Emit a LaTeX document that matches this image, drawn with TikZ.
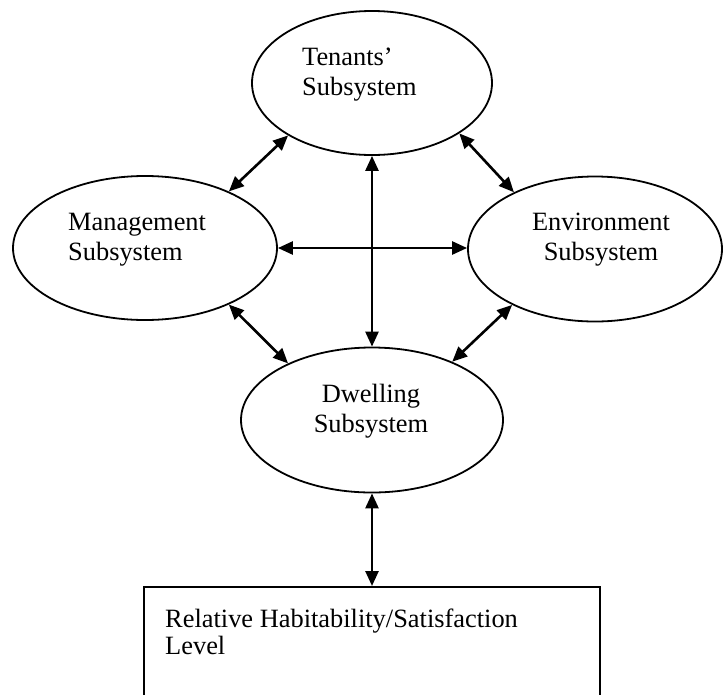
\documentclass[tikz,border=0pt]{standalone}
\usepackage{fontspec}
\setmainfont{Liberation Serif}
\usetikzlibrary{shapes.geometric,arrows.meta}
\begin{document}
\begin{tikzpicture}[x=1pt,y=-1pt,
  sub/.style={draw,ellipse,line width=1.8pt,inner sep=0pt},
  lbl/.style={inner sep=0pt,font=\fontsize{26.4}{30}\selectfont},
  link/.style={line width=2.6pt,{Triangle[length=15pt,width=13pt]}-{Triangle[length=15pt,width=13pt]}}]
\clip (0,0) rectangle (723,694);
\fill[white] (0,0) rectangle (723,694);
% ellipses
\node[sub,minimum width=240pt,minimum height=144pt] (ten) at (372,83) {};
\node[sub,minimum width=264pt,minimum height=144pt] (man) at (145,248) {};
\node[sub,minimum width=254pt,minimum height=145pt] (env) at (595,249) {};
\node[sub,minimum width=262pt,minimum height=145pt] (dwe) at (372,420) {};
% box
\node[draw,line width=1.8pt,minimum width=456pt,minimum height=130pt,anchor=north,inner sep=0pt] (box) at (372,586) {};
% labels
\node[lbl,anchor=base west] (t1) at (302,65) {Tenants’};
\node[lbl,anchor=base west] (t2) at (302,95) {Subsystem};
\node[lbl,anchor=base west] (m1) at (68,230) {Management};
\node[lbl,anchor=base west] (m2) at (68,260) {Subsystem};
\node[lbl,anchor=base] (e1) at (601,230) {Environment};
\node[lbl,anchor=base] (e2) at (601,260) {Subsystem};
\node[lbl,anchor=base] (d1) at (371,402) {Dwelling};
\node[lbl,anchor=base] (d2) at (371,432) {Subsystem};
\node[lbl,anchor=base west] (b1) at (165,627) {Relative Habitability/Satisfaction};
\node[lbl,anchor=base west] (b2) at (165,654) {Level};
% connectors
\draw[link] (ten.212) -- (man.34.5);
\draw[link] (ten.330) -- (env.145);
\draw[link] (man.326) -- (dwe.146);
\draw[link] (env.214.7) -- (dwe.36.5);
\draw[link] (man.east) -- (env.west |- man.east);
\draw[link] (ten.south) -- (dwe.north);
\draw[link] (dwe.south) -- (box.north);
\end{tikzpicture}
\end{document}
